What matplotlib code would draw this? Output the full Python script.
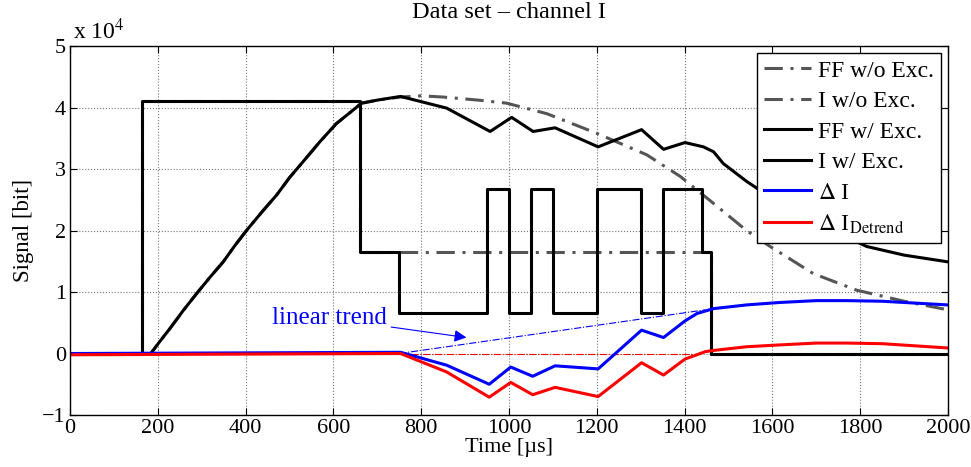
import matplotlib
matplotlib.use('Agg')
import matplotlib.pyplot as plt

plt.rcParams['font.family'] = ['Liberation Serif', 'DejaVu Serif']
plt.rcParams['mathtext.fontset'] = 'stix'

# step signal without excitation (time in us, signal in 1e4 bit)
ff_t = [0, 165, 165, 660, 660, 1460, 1460, 2000]
ff_v = [0, 0, 4.1, 4.1, 1.655, 1.655, 0, 0]

# step signal with excitation (square wave in the middle)
ffx_t = [0, 165, 165, 660, 660, 750, 750, 950, 950, 1000, 1000, 1050, 1050,
         1100, 1100, 1200, 1200, 1300, 1300, 1350, 1350, 1440, 1440, 1460, 1460, 2000]
ffx_v = [0, 0, 4.1, 4.1, 1.655, 1.655, 0.66, 0.66, 2.67, 2.67, 0.66, 0.66, 2.67,
         2.67, 0.66, 0.66, 2.67, 2.67, 0.66, 0.66, 2.67, 2.67, 1.655, 1.655, 0, 0]

# current rise (shared by both current curves)
rise_t = [0, 184, 205, 228, 258, 289, 320, 349, 375, 402, 437, 471, 500, 531, 570,
          607, 640, 664]
rise_v = [0, 0, 0.2, 0.41, 0.70, 0.98, 1.25, 1.49, 1.75, 2.0, 2.30, 2.58, 2.86, 3.12, 3.45,
          3.74, 3.93, 4.07]

# current without excitation, after the rise
i0_t = [700, 753, 800, 850, 930, 995, 1086, 1200, 1314, 1390, 1466, 1541, 1595,
        1693, 1792, 1900, 2000]
i0_v = [4.12, 4.17, 4.19, 4.17, 4.12, 4.07, 3.9, 3.58, 3.23, 2.88, 2.44, 2.0, 1.74,
        1.30, 1.03, 0.85, 0.71]

# current with excitation, after the rise
i1_t = [700, 753, 858, 957, 1006, 1055, 1105, 1203, 1302, 1352, 1401, 1443, 1466,
        1488, 1541, 1600, 1700, 1815, 1900, 2000]
i1_v = [4.12, 4.18, 3.99, 3.61, 3.84, 3.61, 3.67, 3.36, 3.64, 3.32, 3.43, 3.36, 3.28,
        3.09, 2.80, 2.52, 2.12, 1.74, 1.60, 1.49]

# difference and detrended difference
d_t = [0, 753, 858, 955, 1004, 1054, 1105, 1203, 1302, 1352, 1401, 1428, 1447,
       1466, 1541, 1617, 1700, 1769, 1850, 2000]
di_v = [0, 0.02, -0.19, -0.50, -0.22, -0.37, -0.20, -0.25, 0.38, 0.26, 0.53, 0.65, 0.69,
        0.73, 0.79, 0.83, 0.86, 0.86, 0.85, 0.79]
dd_v = [-0.02, 0, -0.30, -0.71, -0.47, -0.67, -0.55, -0.70, -0.15, -0.35, -0.09, -0.02, 0.03,
        0.05, 0.11, 0.14, 0.17, 0.17, 0.16, 0.09]

trend_t = [750, 1447]
trend_v = [0, 0.71]
zero_t = [750, 1440]

fig = plt.figure(figsize=(9.71, 4.67), dpi=100)
ax = fig.add_axes([0.0721, 0.1113, 0.9042, 0.7902])

gray = '#555555'
dashdot = (0, (6, 2.5, 1, 2.5))
ax.plot(ff_t, ff_v, color=gray, lw=2.2, ls=dashdot, label='FF w/o Exc.')
ax.plot(rise_t + i0_t, rise_v + i0_v, color=gray, lw=2.2, ls=dashdot, label='I w/o Exc.')
ax.plot(ffx_t, ffx_v, color='black', lw=2.2, label='FF w/ Exc.')
ax.plot(rise_t + i1_t, rise_v + i1_v, color='black', lw=2.2, label='I w/ Exc.')
ax.plot(trend_t, trend_v, color='blue', lw=0.8, ls='-.')
ax.plot(zero_t, [0, 0], color='red', lw=0.8, ls='-.')
ax.plot(d_t, di_v, color='blue', lw=2.2, label=r'$\Delta$ I')
ax.plot(d_t, dd_v, color='red', lw=2.2, label=r'$\Delta$ I$_{\mathrm{Detrend}}$')

ax.annotate('linear trend', xy=(903, 0.26), xytext=(722, 0.57), color='blue',
            fontsize=18, ha='right', va='center',
            arrowprops=dict(arrowstyle='-|>', color='blue', lw=0.8,
                            mutation_scale=18, shrinkA=1, shrinkB=0))

ax.set_xlim(0, 2000)
ax.set_ylim(-1, 5)
ax.set_xticks(range(0, 2001, 200))
ax.set_yticks(range(-1, 6))
ax.set_yticklabels(['\u22121', '0', '1', '2', '3', '4', '5'])
ax.tick_params(direction='in', top=True, right=True, labelsize=16, length=5, width=0.8,
               pad=3)
ax.grid(True, ls=':', color='#777777', lw=0.8)
for s in ax.spines.values():
    s.set_linewidth(1.0)

ax.text(0.003, 1.005, r'x 10$^4$', transform=ax.transAxes, fontsize=17, va='bottom')
ax.set_title('Data set \u2013 channel I', fontsize=17.5, pad=20)
ax.set_xlabel('Time [\u00b5s]', fontsize=16, labelpad=0)
ax.set_ylabel('Signal [bit]', fontsize=16.5, labelpad=6)

leg = ax.legend(loc='upper right', fontsize=17, handlelength=2.0, handletextpad=0.3,
                labelspacing=0.38, borderpad=0.3, fancybox=False, framealpha=1,
                edgecolor='black', borderaxespad=0.3)
leg.get_frame().set_linewidth(1.0)

fig.savefig('out.png', dpi=100)
